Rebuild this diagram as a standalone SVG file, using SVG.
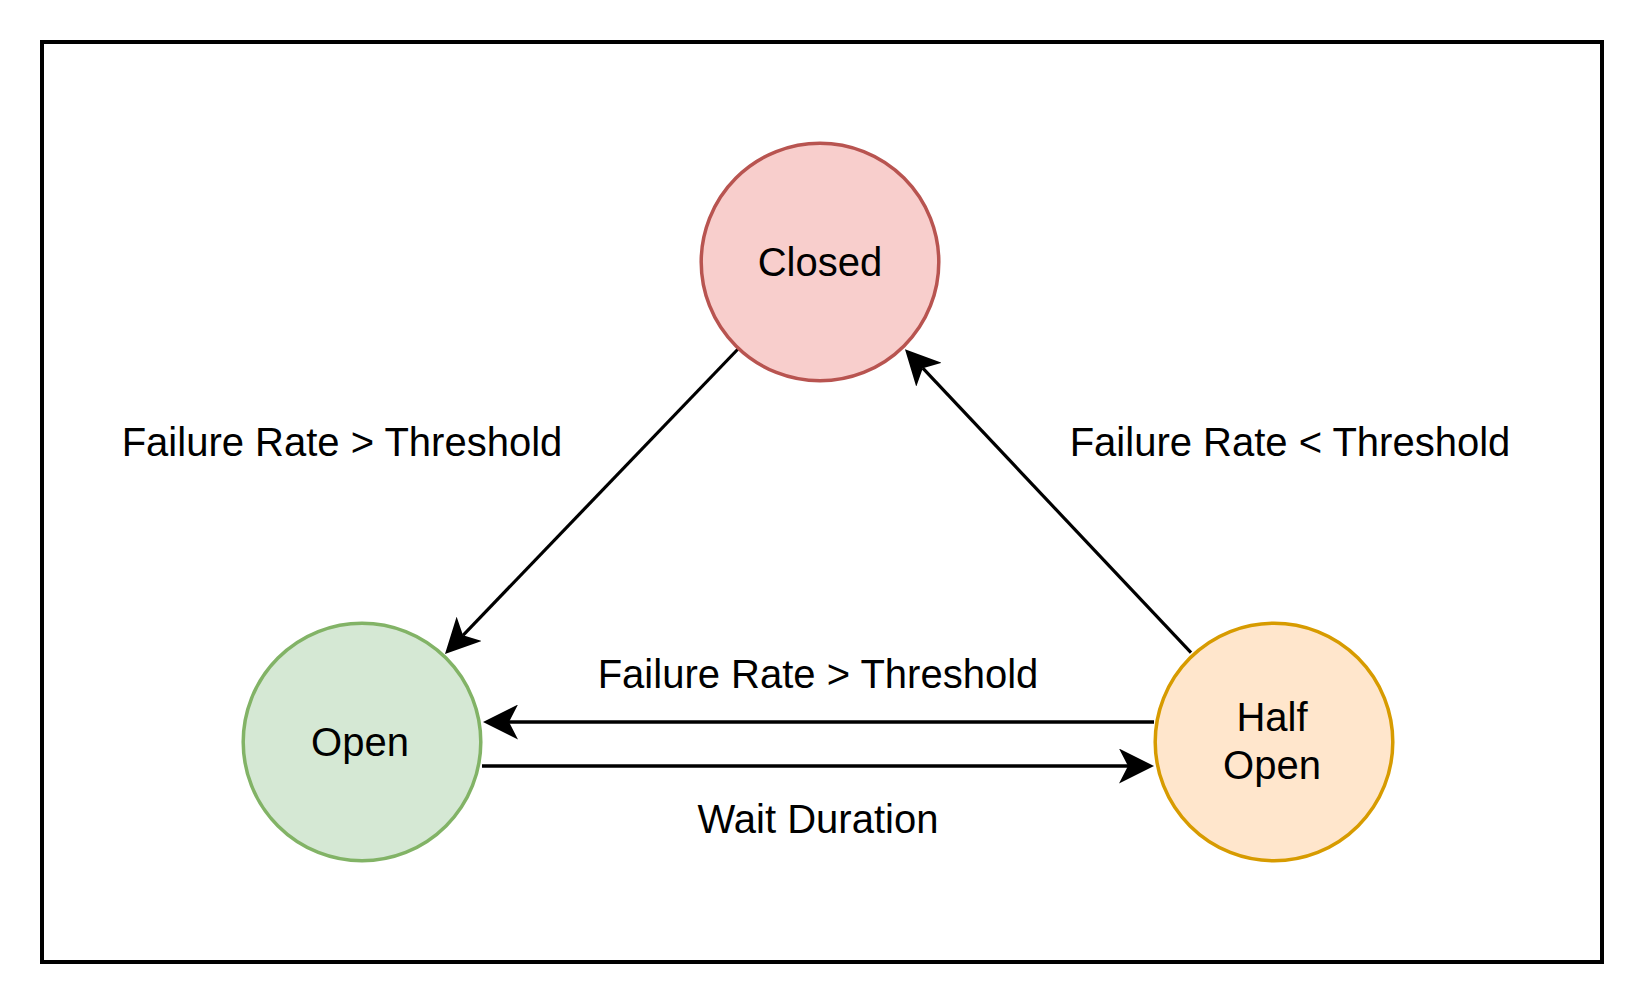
<svg xmlns="http://www.w3.org/2000/svg" width="1644" height="1004" viewBox="0 0 1644 1004">
  <style>
    .lbl { font-family: "Liberation Sans", Arial, sans-serif; font-size: 40px; fill: #000; text-anchor: middle; }
    .edge { fill: none; stroke: #000; }
    .node { stroke-width: 3.5; }
  </style>
  <defs>
    <marker id="arrow" markerUnits="userSpaceOnUse" viewBox="0 0 35 35" refX="9" refY="17.5" markerWidth="35" markerHeight="35" orient="auto">
      <path d="M35,17.5 L0,0 L9,17.5 L0,35 Z" fill="#000"/>
    </marker>
  </defs>
  <rect x="0" y="0" width="1644" height="1004" fill="#fff"/>
  <g id="frame">
    <rect x="42" y="42" width="1560" height="920" fill="none" stroke="#000" stroke-width="4"/>
  </g>
  <g id="connectors">
    <g id="edge-closed-open">
      <line class="edge" x1="739" y1="348" x2="463" y2="635.3" stroke-width="3.2" marker-end="url(#arrow)"/>
      <text class="lbl" x="342" y="456">Failure Rate &gt; Threshold</text>
    </g>
    <g id="edge-half-closed">
      <line class="edge" x1="1191" y1="652.7" x2="922.8" y2="368.2" stroke-width="3.2" marker-end="url(#arrow)"/>
      <text class="lbl" x="1290" y="456">Failure Rate &lt; Threshold</text>
    </g>
    <g id="edge-half-open">
      <line class="edge" x1="1154" y1="722" x2="509" y2="722" stroke-width="3.6" marker-end="url(#arrow)"/>
      <text class="lbl" x="818" y="688">Failure Rate &gt; Threshold</text>
    </g>
    <g id="edge-open-half">
      <line class="edge" x1="482" y1="766" x2="1128" y2="766" stroke-width="3.6" marker-end="url(#arrow)"/>
      <text class="lbl" x="818" y="833">Wait Duration</text>
    </g>
  </g>
  <g id="node-closed">
    <circle class="node" cx="820" cy="262" r="118.8" fill="#f8cecc" stroke="#b85450"/>
    <text class="lbl" x="820" y="276">Closed</text>
  </g>
  <g id="node-open">
    <circle class="node" cx="362" cy="742" r="118.8" fill="#d5e8d4" stroke="#82b366"/>
    <text class="lbl" x="360" y="756">Open</text>
  </g>
  <g id="node-half-open">
    <circle class="node" cx="1274" cy="742" r="118.8" fill="#ffe6cc" stroke="#d79b00"/>
    <text class="lbl" x="1272" y="731">Half</text>
    <text class="lbl" x="1272" y="779">Open</text>
  </g>
</svg>
